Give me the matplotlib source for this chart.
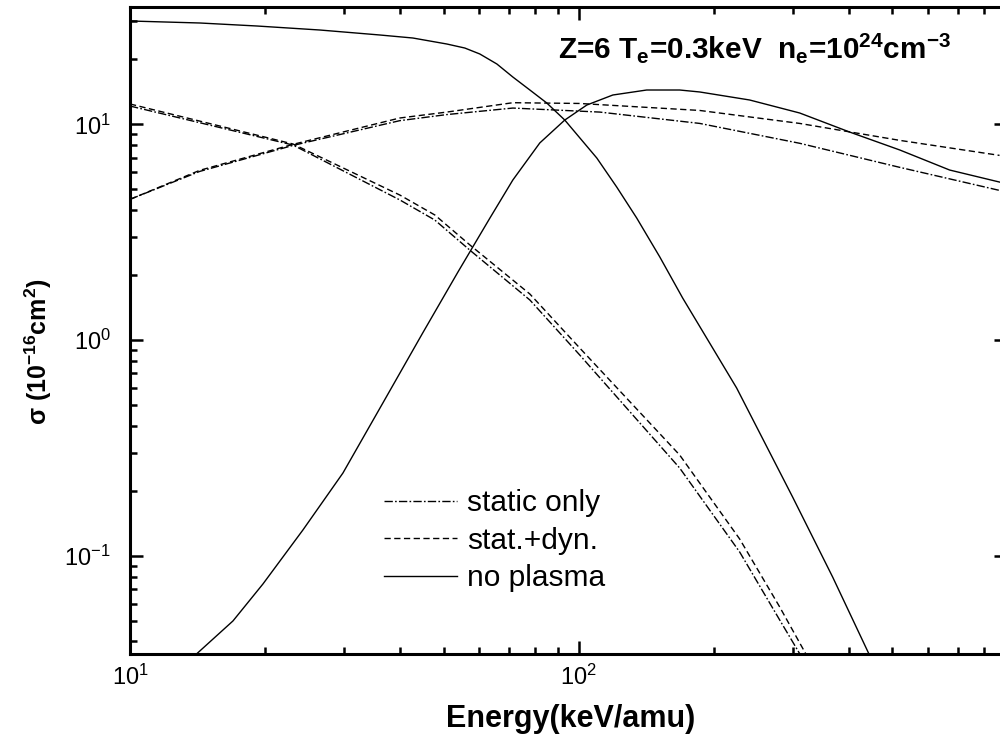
import numpy as np
import matplotlib
matplotlib.use("Agg")
import matplotlib.pyplot as plt

plt.rcParams['font.family'] = 'Liberation Sans'
plt.rcParams['mathtext.fontset'] = 'custom'
plt.rcParams['mathtext.rm'] = 'Liberation Sans'
plt.rcParams['mathtext.bf'] = 'Liberation Sans:bold'
plt.rcParams['mathtext.it'] = 'Liberation Sans:italic'
plt.rcParams['axes.unicode_minus'] = False

# cross sections in 1e-16 cm^2 vs projectile energy (keV/amu)
# no plasma
E_cap_np = [10, 14.32, 19.18, 26.50, 36.06, 42.69, 50.82, 55.73, 60.18, 65.69, 71.29, 77.81, 84.87, 93.07,
            109.7, 121.5, 134.6, 151.5, 170.4, 224.8, 299.6, 367.9, 444.7]
S_cap_np = [30.15, 29.51, 28.58, 27.38, 25.96, 25.14, 23.58, 22.59, 21.20, 19.05, 16.58, 14.43, 12.56, 10.47,
            6.98, 5.12, 3.68, 2.43, 1.566, 0.599, 0.187, 0.0796, 0.0345]
E_ion_np = [13.96, 16.96, 19.78, 24.28, 29.82, 36.6, 44.9, 53.8, 63.4, 71.3, 81.88, 93.07,
            104.2, 119.1, 141.7, 167.8, 186.0, 240.3, 310.6, 401.5, 518.8, 670.6, 866.1]
S_ion_np = [0.0345, 0.0498, 0.0739, 0.1315, 0.2417, 0.5105, 1.078, 2.067, 3.68, 5.52, 8.20, 10.47,
            12.29, 13.68, 14.43, 14.43, 14.13, 12.97, 11.29, 9.21, 7.61, 6.14, 5.40]

# static + dynamic screening
E_cap_sd = [10, 23.07, 39.94, 47.78, 57.19, 77.81, 100.5, 167.8, 228.3, 280.4, 321.9]
S_cap_sd = [12.43, 8.11, 4.70, 3.80, 2.76, 1.634, 0.918, 0.293, 0.1195, 0.0578, 0.0345]
E_ion_sd = [10, 14.3, 23.1, 39.9, 50.8, 71.3, 100.3, 186.0, 310.6, 518.8, 866.1]
S_ion_sd = [4.49, 6.12, 8.08, 10.7, 11.4, 12.6, 12.5, 11.6, 10.1, 8.43, 7.18]

# static screening only
E_cap_st = [10, 23.07, 39.94, 47.78, 57.19, 77.81, 100.5, 167.8, 228.3, 280.4, 312.2]
S_cap_st = [12.16, 8.02, 4.46, 3.60, 2.61, 1.533, 0.852, 0.255, 0.104, 0.0503, 0.0345]
E_ion_st = [10, 14.3, 23.1, 39.9, 50.8, 71.3, 111.4, 186.0, 310.6, 518.8, 866.1]
S_ion_st = [4.49, 6.05, 7.99, 10.4, 11.1, 11.9, 11.4, 10.1, 8.17, 6.32, 4.94]

labels = ['static only', 'stat.+dyn.', 'no plasma']

fig = plt.figure(figsize=(10, 7.55), dpi=100)
ax = fig.add_axes([0.130, 0.1338, 0.877, 0.8569])

dd = (0, (6, 1.6, 1.2, 1.6))
da = (0, (4.5, 2.5))
lw = 1.0

ax.plot(E_cap_st, S_cap_st, color='k', lw=lw, linestyle=dd, label=labels[0])
ax.plot(E_ion_st, S_ion_st, color='k', lw=lw, linestyle=dd)
ax.plot(E_cap_sd, S_cap_sd, color='k', lw=lw, linestyle=da, label=labels[1])
ax.plot(E_ion_sd, S_ion_sd, color='k', lw=lw, linestyle=da)
ax.plot(E_cap_np, S_cap_np, color='k', lw=lw, label=labels[2])
ax.plot(E_ion_np, S_ion_np, color='k', lw=lw)

ax.set_xscale('log')
ax.set_yscale('log')
ax.set_xlim(10, 900)
ax.set_ylim(0.035, 35)

for s in ax.spines.values():
    s.set_linewidth(2.2)
ax.spines['right'].set_visible(False)
ax.tick_params(which='both', direction='in', top=True, right=True, width=1.8)
ax.tick_params(which='major', length=9.5, labelsize=17)
ax.tick_params(which='minor', length=5)
ax.tick_params(axis='x', pad=8)
ax.tick_params(axis='y', pad=14)

ax.set_xlabel('Energy(keV/amu)', fontsize=22, fontweight='bold')
ax.set_ylabel(r'σ (10$^{\mathbf{-16}}$cm$^{\mathbf{2}}$)', fontsize=18, fontweight='bold')
ax.xaxis.set_label_coords(0.502, -0.078)
ax.yaxis.set_label_coords(-0.087, 0.468)

ax.text(0.488, 0.921,
        r'Z=6 T$_{\mathbf{e}}$=0.3keV  n$_{\mathbf{e}}$=10$^{\mathbf{24}}$cm$^{\mathbf{-3}}$',
        transform=ax.transAxes, fontsize=21.4, fontweight='bold', va='baseline', ha='left')

ax.legend(loc='upper left', bbox_to_anchor=(0.29, 0.255), frameon=False, fontsize=21.5,
          handlelength=2.45, handletextpad=0.33, labelspacing=0.32, borderpad=0, borderaxespad=0)

plt.savefig('out.png', dpi=100)
